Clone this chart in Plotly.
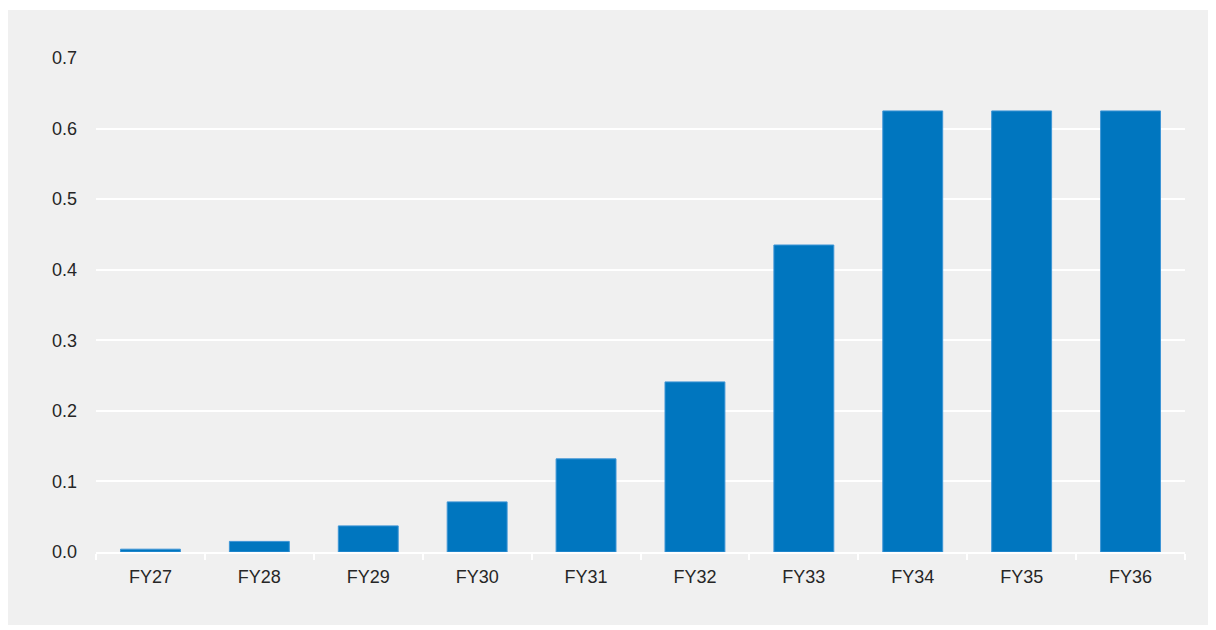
import plotly.graph_objects as go

categories = ["FY27", "FY28", "FY29", "FY30", "FY31", "FY32", "FY33", "FY34", "FY35", "FY36"]
values = [0.004, 0.015, 0.037, 0.071, 0.132, 0.241, 0.435, 0.625, 0.625, 0.625]
y_ticks = [0.0, 0.1, 0.2, 0.3, 0.4, 0.5, 0.6, 0.7]

fig = go.Figure()
fig.add_trace(go.Bar(
    x=categories, y=values,
    marker=dict(color="#0076BF", line=dict(color="#3d95d6", width=1)),
    width=0.55,
))

fig.update_layout(
    width=1208, height=622,
    margin=dict(l=88, r=31, t=50, b=78),
    paper_bgcolor="white",
    plot_bgcolor="rgba(0,0,0,0)",
    showlegend=False,
    font=dict(family="Liberation Sans, Arial, sans-serif", size=18, color="#262626"),
    shapes=[dict(
        type="rect", xref="paper", yref="paper",
        x0=-0.0808, x1=1.0211, y0=-0.1478, y1=1.0972,
        fillcolor="#f0f0f0", line=dict(width=0), layer="below",
    )],
)

fig.update_xaxes(
    type="category",
    showgrid=False,
    showline=True, linecolor="white", linewidth=2,
    ticks="outside", tickson="boundaries", tickcolor="white", ticklen=6, tickwidth=2,
    ticklabelstandoff=7,
)
fig.update_yaxes(
    range=[0, 0.7],
    tickvals=y_ticks,
    tickformat=".1f",
    showgrid=True, gridcolor="white", gridwidth=2,
    zeroline=False,
    showline=False,
    ticks="", ticklabelstandoff=18,
)

fig.write_html("out.html")
